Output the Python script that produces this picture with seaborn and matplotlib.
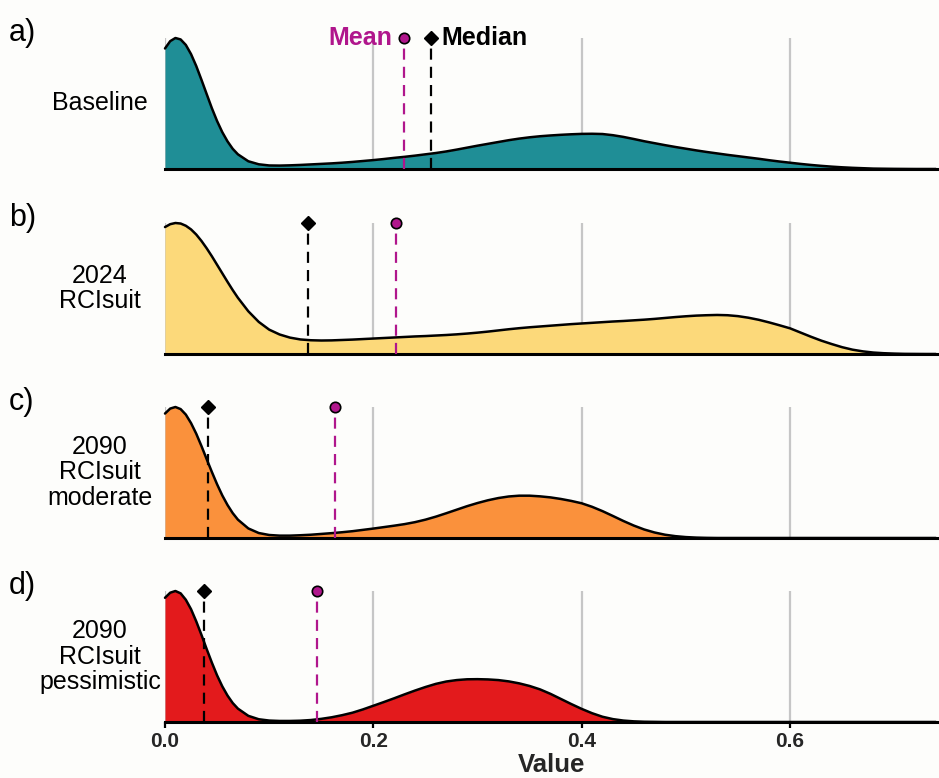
import numpy as np
import pandas as pd
import matplotlib
matplotlib.use("Agg")
import matplotlib.pyplot as plt
import seaborn as sns

# ---------------- data (relative density) ----------------
x_grid = ([0.000, 0.005, 0.010, 0.015, 0.020, 0.025, 0.030, 0.035, 0.040, 0.045,
           0.050, 0.055, 0.060, 0.065, 0.070, 0.080, 0.090]
          + [round(0.10 + 0.01 * k, 2) for k in range(65)])

baseline = [0.920, 0.976, 1.000, 0.989, 0.947, 0.877, 0.786, 0.681, 0.572, 0.464,
            0.366, 0.281, 0.211, 0.154, 0.112, 0.059, 0.036,
            0.027, 0.026, 0.028, 0.031, 0.035, 0.039, 0.043, 0.048, 0.054, 0.061,
            0.068, 0.076, 0.085, 0.093, 0.102, 0.112, 0.122, 0.134, 0.148, 0.163,
            0.178, 0.192, 0.206, 0.220, 0.232, 0.242, 0.250, 0.256, 0.261, 0.265,
            0.268, 0.269, 0.267, 0.258, 0.245, 0.229, 0.212, 0.197, 0.182, 0.168,
            0.155, 0.142, 0.130, 0.119, 0.108, 0.098, 0.088, 0.078, 0.067, 0.057,
            0.048, 0.039, 0.031, 0.024, 0.018, 0.013, 0.009, 0.006, 0.003, 0.002,
            0.001, 0.0005, 0.000, 0.000, 0.000]

rci_2024 = [0.969, 0.991, 1.000, 0.996, 0.979, 0.951, 0.912, 0.863, 0.807, 0.746,
            0.681, 0.616, 0.551, 0.488, 0.429, 0.326, 0.245,
            0.186, 0.149, 0.125, 0.111, 0.105, 0.103, 0.104, 0.107, 0.110, 0.114,
            0.118, 0.122, 0.126, 0.130, 0.134, 0.137, 0.141, 0.145, 0.150, 0.156,
            0.163, 0.171, 0.180, 0.189, 0.197, 0.204, 0.210, 0.216, 0.222, 0.228,
            0.233, 0.238, 0.243, 0.248, 0.252, 0.257, 0.262, 0.268, 0.275, 0.282,
            0.288, 0.293, 0.296, 0.298, 0.296, 0.289, 0.277, 0.261, 0.241, 0.219,
            0.196, 0.164, 0.132, 0.102, 0.076, 0.052, 0.033, 0.020, 0.011, 0.006,
            0.003, 0.001, 0.0005, 0.000, 0.000]

rci_2090_moderate = [0.950, 0.988, 1.000, 0.984, 0.942, 0.877, 0.796, 0.702, 0.602, 0.504,
                     0.410, 0.325, 0.252, 0.190, 0.140, 0.073, 0.038,
                     0.023, 0.018, 0.018, 0.021, 0.025, 0.031, 0.037, 0.044, 0.052, 0.062,
                     0.072, 0.083, 0.094, 0.106, 0.121, 0.140, 0.163, 0.189, 0.216, 0.243,
                     0.267, 0.288, 0.305, 0.317, 0.323, 0.323, 0.318, 0.310, 0.298, 0.283,
                     0.265, 0.238, 0.205, 0.168, 0.130, 0.095, 0.065, 0.042, 0.025, 0.014,
                     0.007, 0.003, 0.001, 0.000, 0.000, 0.000, 0.000, 0.000, 0.000, 0.000,
                     0.000, 0.000, 0.000, 0.000, 0.000, 0.000, 0.000, 0.000, 0.000, 0.000,
                     0.000, 0.000, 0.000, 0.000, 0.000]

rci_2090_pessimistic = [0.948, 0.987, 1.000, 0.982, 0.933, 0.861, 0.768, 0.665, 0.557, 0.453,
                        0.356, 0.272, 0.202, 0.145, 0.102, 0.047, 0.021,
                        0.011, 0.008, 0.008, 0.010, 0.015, 0.024, 0.036, 0.052, 0.071, 0.096,
                        0.124, 0.152, 0.181, 0.211, 0.240, 0.267, 0.291, 0.309, 0.320, 0.326,
                        0.327, 0.325, 0.320, 0.310, 0.295, 0.275, 0.249, 0.215, 0.176, 0.137,
                        0.100, 0.067, 0.040, 0.022, 0.011, 0.005, 0.002, 0.001, 0.000, 0.000,
                        0.000, 0.000, 0.000, 0.000, 0.000, 0.000, 0.000, 0.000, 0.000, 0.000,
                        0.000, 0.000, 0.000, 0.000, 0.000, 0.000, 0.000, 0.000, 0.000, 0.000,
                        0.000, 0.000, 0.000, 0.000, 0.000]

panel_letters = ["a)", "b)", "c)", "d)"]
row_labels = ["Baseline", "2024\nRCIsuit", "2090\nRCIsuit\nmoderate", "2090\nRCIsuit\npessimistic"]
mean_values = [0.229, 0.222, 0.163, 0.146]
median_values = [0.255, 0.137, 0.041, 0.037]
tick_values = [0.0, 0.2, 0.4, 0.6]
tick_labels = ["0.0", "0.2", "0.4", "0.6"]

series = [baseline, rci_2024, rci_2090_moderate, rci_2090_pessimistic]
fill_colors = ["#1f8e96", "#fcd97a", "#fa913c", "#e31a1c"]
MEAN_COLOR = "#b0168c"
BG = "#fdfdfb"

frames = []
for lab, dens in zip(row_labels, series):
    frames.append(pd.DataFrame({"x": x_grid, "density": dens, "scenario": lab}))
df = pd.concat(frames, ignore_index=True)

# ---------------- figure ----------------
sns.set_theme(style="white")
plt.rcParams["font.family"] = ["Liberation Sans", "DejaVu Sans"]

W, H = 939, 778
fig = plt.figure(figsize=(W / 100, H / 100), dpi=100, facecolor=BG)

left_px, right_px = 165, 939
bottoms_px = [169, 354, 538, 722]
panel_h_px = 131

for i, lab in enumerate(row_labels):
    b = bottoms_px[i]
    ax = fig.add_axes([left_px / W, 1 - b / H, (right_px - left_px) / W, panel_h_px / H])
    ax.set_facecolor("none")
    sub = df[df["scenario"] == lab]

    for t in tick_values:
        ax.axvline(t, color="#c6c6c6", lw=1.6, zorder=0)

    ax.fill_between(sub["x"], sub["density"], 0, color=fill_colors[i], lw=0, zorder=1)
    sns.lineplot(data=sub, x="x", y="density", ax=ax, color="black", lw=1.8,
                 zorder=2, clip_on=False, sort=True, estimator=None)

    ax.set_xlim(0, 0.743)
    ax.set_ylim(0, 1.0)
    ax.set_xlabel("")
    ax.set_ylabel("")
    ax.set_yticks([])

    for s in ["left", "top", "right"]:
        ax.spines[s].set_visible(False)
    ax.spines["bottom"].set_linewidth(2.2)
    ax.spines["bottom"].set_color("black")
    ax.spines["bottom"].set_zorder(3)

    m = mean_values[i]
    md = median_values[i]
    ax.vlines(m, 0, 1, colors=MEAN_COLOR, lw=1.6, linestyles=(0, (5, 3.2)), zorder=4)
    ax.vlines(md, 0, 1, colors="black", lw=1.6, linestyles=(0, (5, 3.2)), zorder=4)
    ax.plot([m], [1], marker="o", ms=7.5, mfc=MEAN_COLOR, mec="black", mew=1.2,
            clip_on=False, zorder=6, ls="none")
    ax.plot([md], [1], marker="D", ms=7, mfc="black", mec="black", mew=1,
            clip_on=False, zorder=6, ls="none")

    if i == 0:
        ax.annotate("Mean", xy=(m, 1), xytext=(-8, 0), textcoords="offset points",
                    ha="right", va="center", color=MEAN_COLOR, fontweight="bold",
                    fontsize=18, annotation_clip=False)
        ax.annotate("Median", xy=(md, 1), xytext=(8, 0), textcoords="offset points",
                    ha="left", va="center", color="black", fontweight="bold",
                    fontsize=18, annotation_clip=False)

    ax.text((100 - left_px) / (right_px - left_px), 0.5, lab, transform=ax.transAxes,
            ha="center", va="center", fontsize=18, linespacing=1.1, color="black")
    ax.text((9 - left_px) / (right_px - left_px), 1.04, panel_letters[i],
            transform=ax.transAxes, ha="left", va="center", fontsize=22, color="black")

    if i == 3:
        ax.set_xticks(tick_values)
        ax.set_xticklabels(tick_labels, fontweight="bold", fontsize=15)
        ax.tick_params(axis="x", direction="out", length=4.5, width=1.6,
                       color="black", pad=3, bottom=True)
        ax.set_xlabel("Value", fontweight="bold", fontsize=18.5, labelpad=1)
    else:
        ax.set_xticks([])

fig.savefig("out.png", dpi=100, facecolor=BG)
